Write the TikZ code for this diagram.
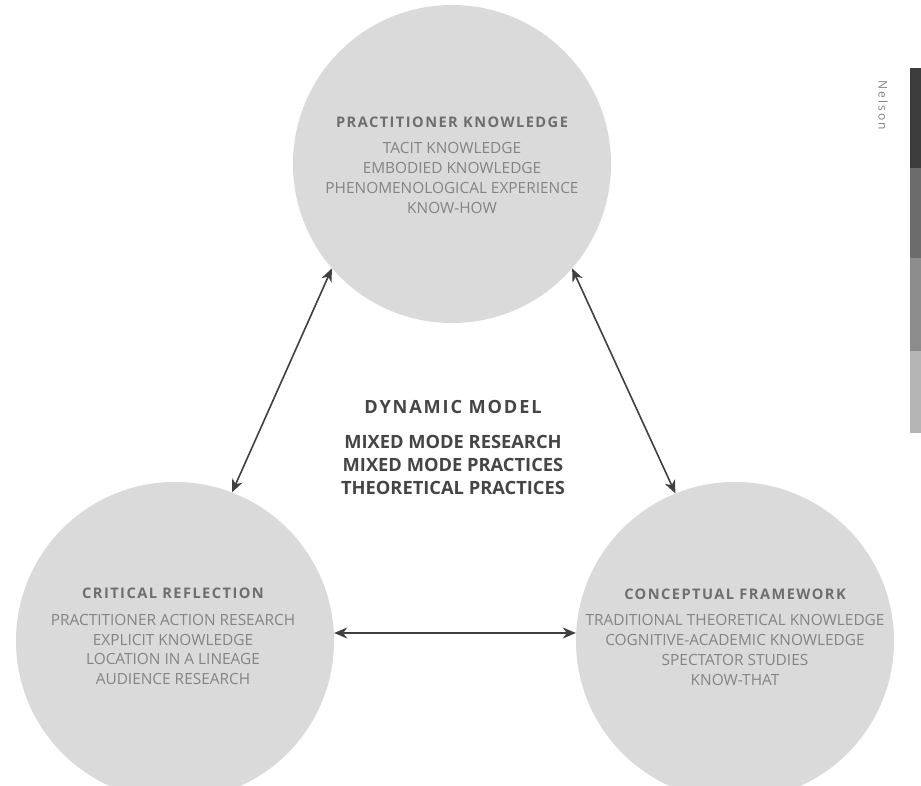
\documentclass[tikz,border=0pt]{standalone}
\usepackage{fontspec}
\setmainfont{Open Sans}
\newfontfamily\spacedfont{Open Sans}[LetterSpace=10]
\newfontfamily\widefont{Open Sans}[LetterSpace=18]
\usetikzlibrary{arrows.meta}
\definecolor{circfill}{HTML}{DADADA}
\definecolor{ttlcol}{HTML}{6E6E6E}
\definecolor{itmcol}{HTML}{848484}
\definecolor{arrcol}{HTML}{404040}
\definecolor{ctrcol}{HTML}{454545}
\definecolor{barA}{HTML}{3C3C3C}
\definecolor{barB}{HTML}{6C6C6C}
\definecolor{barC}{HTML}{8C8C8C}
\definecolor{barD}{HTML}{B4B4B4}
\begin{document}
\begin{tikzpicture}[x=1pt,y=-1pt,
  blob/.style={circle, fill=circfill, minimum size=318pt, inner sep=0pt},
  ttlstyle/.style={text=ttlcol, inner sep=0pt, font=\spacedfont\bfseries\fontsize{14.6}{16}\selectfont},
  itmstyle/.style={text=itmcol, align=center, inner sep=0pt, font=\fontsize{15.4}{19.8}\selectfont},
  ctrttl/.style={text=ctrcol, inner sep=0pt, font=\spacedfont\bfseries\fontsize{18.2}{20}\selectfont},
  ctritm/.style={text=ctrcol, align=center, inner sep=0pt, font=\bfseries\fontsize{18.3}{23}\selectfont},
  link/.style={draw=arrcol, line width=1.6pt, {Stealth[length=13pt,width=11pt,inset=4pt]}-{Stealth[length=13pt,width=11pt,inset=4pt]}}
]
\fill[white] (0,0) rectangle (921,786);
\path[use as bounding box] (0,0) rectangle (921,786);

% circles
\node[blob] (top) at (452,164) {};
\node[blob] (bl) at (175,641) {};
\node[blob] (br) at (735,641) {};

% top circle text
\node[ttlstyle] (topttl) at (452,122) {PRACTITIONER KNOWLEDGE};
\node[itmstyle] (topitm) at (452,178) {TACIT KNOWLEDGE\\EMBODIED KNOWLEDGE\\PHENOMENOLOGICAL EXPERIENCE\\KNOW-HOW};

% bottom-left circle text
\node[ttlstyle] (blttl) at (173,593) {CRITICAL REFLECTION};
\node[itmstyle] (blitm) at (173,649.5) {PRACTITIONER ACTION RESEARCH\\EXPLICIT KNOWLEDGE\\LOCATION IN A LINEAGE\\AUDIENCE RESEARCH};

% bottom-right circle text
\node[ttlstyle] (brttl) at (735,594) {CONCEPTUAL FRAMEWORK};
\node[itmstyle] (britm) at (735,650) {TRADITIONAL THEORETICAL KNOWLEDGE\\COGNITIVE-ACADEMIC KNOWLEDGE\\SPECTATOR STUDIES\\KNOW-THAT};

% centre text
\node[ctrttl] (cttl) at (453,407) {DYNAMIC MODEL};
\node[ctritm] (citm) at (453,465) {MIXED MODE RESEARCH\\MIXED MODE PRACTICES\\THEORETICAL PRACTICES};

% connectors
\draw[link] (top.221) -- (bl.69);
\draw[link] (top.319) -- (br.112);
\draw[link] ([yshift=8pt]bl.east) -- ([yshift=8pt]br.west);

% margin label and bar
\node[text=itmcol, rotate=-90, inner sep=0pt, font=\widefont\fontsize{12}{13}\selectfont] (nelson) at (883,105) {Nelson};
\fill[barA] (910,68) rectangle (921,168);
\fill[barB] (910,168) rectangle (921,258);
\fill[barC] (910,258) rectangle (921,351);
\fill[barD] (910,351) rectangle (921,433);
\end{tikzpicture}
\end{document}
